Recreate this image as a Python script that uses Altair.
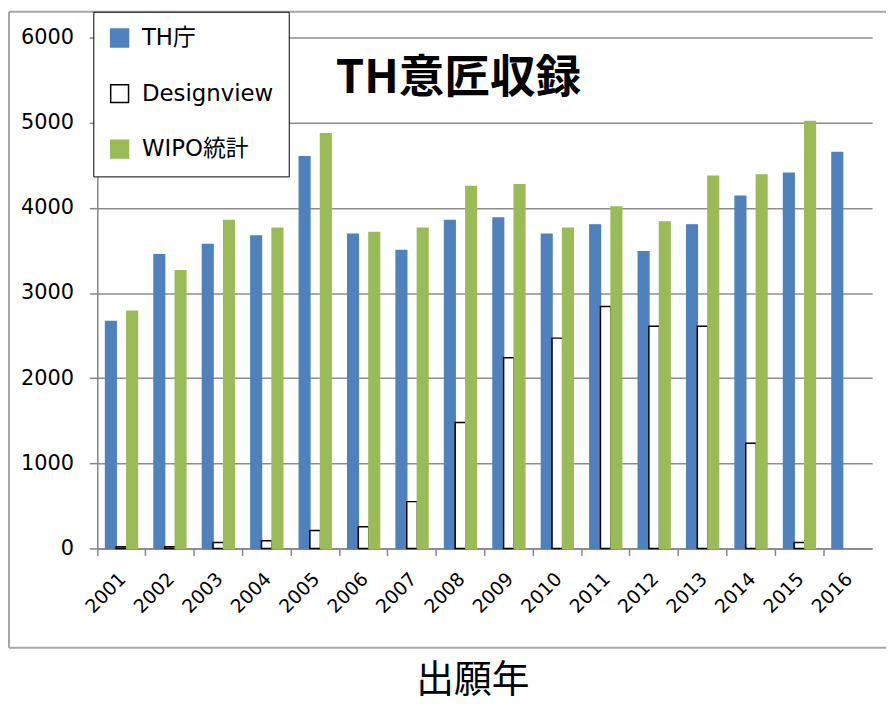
import altair as alt
import pandas as pd

years = [str(y) for y in range(2001, 2017)]
th_office = [2665, 3450, 3570, 3670, 4600, 3690, 3500, 3850, 3880, 3690, 3800, 3485, 3800, 4135, 4405, 4650]
designview = [20, 20, 70, 90, 210, 255, 550, 1480, 2240, 2470, 2840, 2610, 2610, 1235, 70, None]
wipo = [2785, 3260, 3850, 3760, 4870, 3710, 3760, 4250, 4270, 3760, 4010, 3835, 4370, 4385, 5015, None]
series = ["TH庁", "Designview", "WIPO統計"]
fills = ["#4F81BD", "#FFFFFF", "#9BBB59"]
strokes = ["#4F81BD", "#000000", "#9BBB59"]
y_ticks = [0, 1000, 2000, 3000, 4000, 5000, 6000]
chart_title = "TH意匠収録"
x_title = "出願年"

rows = []
for s, vals in zip(series, [th_office, designview, wipo]):
    for yr, v in zip(years, vals):
        if v is not None:
            rows.append({"year": yr, "series": s, "value": v})
df = pd.DataFrame(rows)

W, H = 781, 515
LATIN = "DejaVu Sans, Noto Sans CJK JP"
CJK = "Noto Sans CJK JP"

legend = alt.Legend(
    title=None, orient="none", legendX=-4, legendY=-26,
    fillColor="white", strokeColor="black", padding=15, rowPadding=31,
    symbolType="square", symbolSize=324, symbolStrokeWidth=1.5,
    labelFont=LATIN, labelFontSize=23, labelOffset=11, labelColor="black",
    cornerRadius=0,
)

bars = alt.Chart(df).mark_bar(strokeWidth=1.5).encode(
    x=alt.X("year:N", sort=years,
            scale=alt.Scale(domain=years, paddingInner=0, paddingOuter=0),
            axis=alt.Axis(title=x_title, labelAngle=-45, labelAlign="right", labelBaseline="top",
                          bandPosition=0, labelOffset=-5,
                          tickSize=7, labelPadding=14, labelFont=LATIN, labelFontSize=19,
                          titleFont=CJK, titleFontSize=38, titleFontWeight="normal",
                          titleX=378, titleY=133, titleBaseline="middle", titleAlign="center",
                          titleAnchor="start", titleColor="black", grid=False)),
    xOffset=alt.XOffset("series:N", sort=series,
                        scale=alt.Scale(domain=series, paddingInner=0, paddingOuter=0.78)),
    y=alt.Y("value:Q", scale=alt.Scale(domain=[0, 6000], nice=False),
            axis=alt.Axis(title=None, values=y_ticks, format="d", tickSize=8, labelPadding=16,
                          labelFont=LATIN, labelFontSize=21, grid=True)),
    color=alt.Color("series:N", scale=alt.Scale(domain=series, range=fills), legend=legend),
    stroke=alt.Stroke("series:N", scale=alt.Scale(domain=series, range=strokes), legend=legend),
)

one = pd.DataFrame({"k": [0]})
title_df = pd.DataFrame({"t": [chart_title]})

title_mark = alt.Chart(title_df).mark_text(
    font=CJK, fontSize=46, fontWeight="bold", align="center", baseline="middle", color="black"
).encode(text="t:N", x=alt.value(364), y=alt.value(42))

border_color = "#a6a6a6"
left_rule = alt.Chart(one).mark_rule(color=border_color, strokeWidth=2).encode(
    x=alt.value(-89), y=alt.value(-26), y2=alt.value(615))
top_rule = alt.Chart(one).mark_rule(color=border_color, strokeWidth=2).encode(
    x=alt.value(-89), x2=alt.value(795), y=alt.value(-26))
bottom_rule = alt.Chart(one).mark_rule(color=border_color, strokeWidth=2).encode(
    x=alt.value(-89), x2=alt.value(795), y=alt.value(615))

chart = alt.layer(left_rule, top_rule, bottom_rule, bars, title_mark).properties(
    width=W, height=H, padding=0
).configure_axis(
    domainColor="#868686", tickColor="#868686", gridColor="#8c8c8c",
    domainWidth=1.5, tickWidth=1.5, gridWidth=1.5, labelColor="black"
).configure_view(strokeWidth=0)

chart.save("out.html", embed_options={"renderer": "svg", "actions": False})
